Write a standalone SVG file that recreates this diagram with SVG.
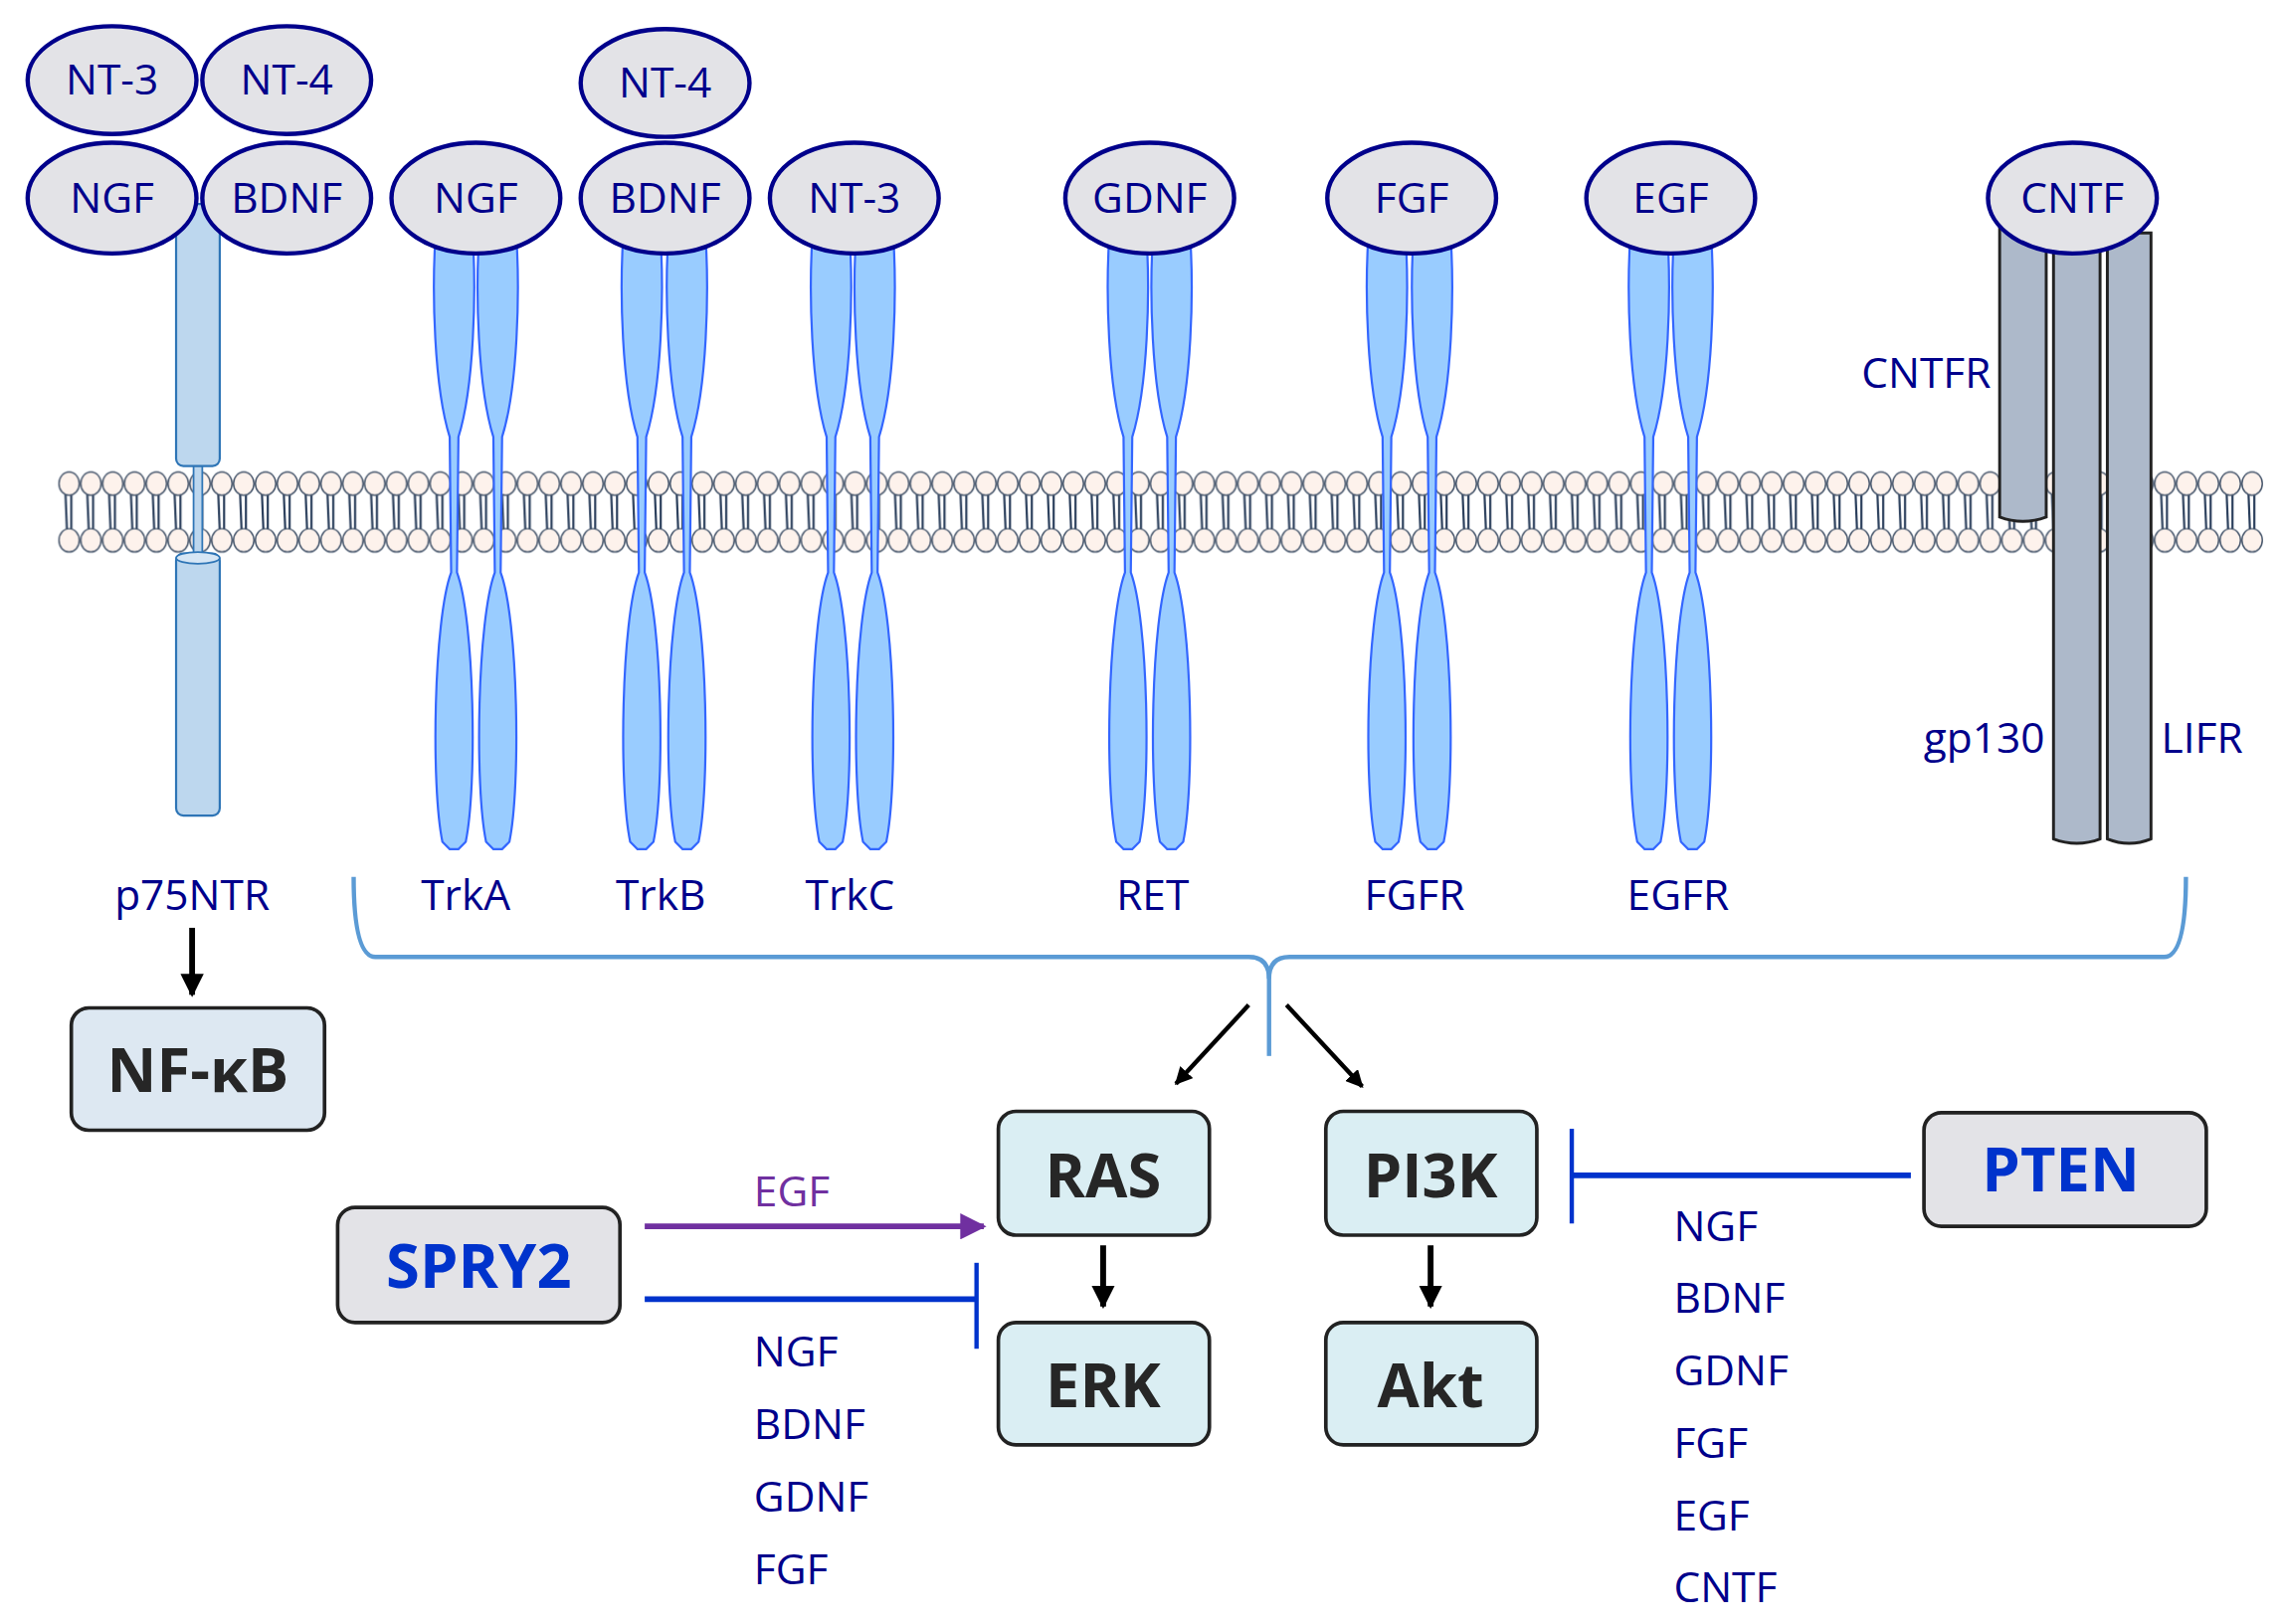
<svg xmlns="http://www.w3.org/2000/svg" width="2294" height="1633" viewBox="0 0 2294 1633">
<style>
.lig ellipse{fill:#e3e3e7;stroke:#00008b;stroke-width:3}
.lt{font-family:"Open Sans","Liberation Sans",sans-serif;font-size:29px;fill:#00008b;text-anchor:middle}
.lab{font-family:"Open Sans","Liberation Sans",sans-serif;font-size:29px;fill:#00008b}
.trk{fill:#99ccff;stroke:#3366ff;stroke-width:1.5}
.gp{fill:#adb9ca;stroke:#222;stroke-width:2}
.bx{fill:#daeef3;stroke:#222;stroke-width:2.5}
.bt{font-family:"Open Sans","Liberation Sans",sans-serif;font-size:42px;font-weight:bold;fill:#262626;text-anchor:middle}
.bb{font-family:"Open Sans","Liberation Sans",sans-serif;font-size:42px;font-weight:bold;fill:#0033cc;text-anchor:middle}
</style>
<defs>
<pattern id="mem" x="40" y="322" width="15" height="60" patternUnits="userSpaceOnUse">
<line x1="5" y1="17" x2="6" y2="42" stroke="#2b3f5c" stroke-width="1.5"/>
<line x1="9" y1="17" x2="9" y2="42" stroke="#2b3f5c" stroke-width="1.5"/>
<ellipse cx="7.5" cy="10" rx="7" ry="8" fill="#fdf2ec" stroke="#44546a" stroke-width="1"/>
<ellipse cx="7.5" cy="49" rx="7" ry="8" fill="#fdf2ec" stroke="#44546a" stroke-width="1"/>
</pattern>
<marker id="ah" viewBox="0 0 10 10" refX="9" refY="5" markerWidth="4" markerHeight="4" orient="auto"><path d="M0,0 L10,5 L0,10 z" fill="#000"/></marker>
<marker id="ahp" viewBox="0 0 10 10" refX="9" refY="5" markerWidth="4.5" markerHeight="4.5" orient="auto"><path d="M0,0 L10,5 L0,10 z" fill="#7030a0"/></marker>
<path id="lobe" d="M-3,300 C-14,265 -15,200 -13,166 L13,166 C15,200 14,265 3,300 L2,393 C14,425 16,540 8,578 L3,583 L-3,583 L-8,578 C-16,540 -14,425 -2,393 Z"/>
</defs>
<g transform="scale(1.463,1.4646)">
<g id="membrane"><rect x="40" y="322" width="1515" height="60" fill="url(#mem)"/></g>

<g id="p75NTR">
<rect x="133" y="310" width="6" height="80" fill="#bdd7ee" stroke="#2e75b6" stroke-width="1.2"/>
<rect x="121" y="140" width="30" height="180" rx="5" fill="#bdd7ee" stroke="#2e75b6" stroke-width="1.5"/>
<rect x="121" y="380" width="30" height="180" rx="5" fill="#bdd7ee" stroke="#2e75b6" stroke-width="1.5"/>
<ellipse cx="136" cy="383" rx="15" ry="4" fill="#d6e6f5" stroke="#2e75b6" stroke-width="1.2"/>
<text class="lt" x="132" y="625">p75NTR</text>
</g>
<g id="TrkA"><use href="#lobe" class="trk" x="312"/><use href="#lobe" class="trk" x="342"/><text class="lt" x="320" y="625">TrkA</text></g>
<g id="TrkB"><use href="#lobe" class="trk" x="441"/><use href="#lobe" class="trk" x="472"/><text class="lt" x="454" y="625">TrkB</text></g>
<g id="TrkC"><use href="#lobe" class="trk" x="571"/><use href="#lobe" class="trk" x="601"/><text class="lt" x="584" y="625">TrkC</text></g>
<g id="RET"><use href="#lobe" class="trk" x="775"/><use href="#lobe" class="trk" x="805"/><text class="lt" x="792" y="625">RET</text></g>
<g id="FGFR"><use href="#lobe" class="trk" x="953"/><use href="#lobe" class="trk" x="984"/><text class="lt" x="972" y="625">FGFR</text></g>
<g id="EGFR"><use href="#lobe" class="trk" x="1133"/><use href="#lobe" class="trk" x="1163"/><text class="lt" x="1153" y="625">EGFR</text></g>

<g id="CNTF-receptors">
<path class="gp" d="M1374,150 H1406 V355 Q1390,361 1374,355 Z"/>
<path class="gp" d="M1411,165 H1443 V576 Q1427,582 1411,576 Z"/>
<path class="gp" d="M1448,160 H1478 V576 Q1463,582 1448,576 Z"/>
<text class="lab" x="1368" y="266" text-anchor="end">CNTFR</text>
<text class="lab" x="1405" y="517" text-anchor="end">gp130</text>
<text class="lab" x="1485" y="517">LIFR</text>
</g>

<g id="ligands" class="lig">
<g id="NT3a"><ellipse cx="77" cy="55" rx="58" ry="37"/><text class="lt" x="77" y="65">NT-3</text></g>
<g id="NT4a"><ellipse cx="197" cy="55" rx="58" ry="37"/><text class="lt" x="197" y="65">NT-4</text></g>
<g id="NT4b"><ellipse cx="457" cy="57" rx="58" ry="37"/><text class="lt" x="457" y="67">NT-4</text></g>
<g id="NGFa"><ellipse cx="77" cy="136" rx="58" ry="38"/><text class="lt" x="77" y="146">NGF</text></g>
<g id="BDNFa"><ellipse cx="197" cy="136" rx="58" ry="38"/><text class="lt" x="197" y="146">BDNF</text></g>
<g id="NGFb"><ellipse cx="327" cy="136" rx="58" ry="38"/><text class="lt" x="327" y="146">NGF</text></g>
<g id="BDNFb"><ellipse cx="457" cy="136" rx="58" ry="38"/><text class="lt" x="457" y="146">BDNF</text></g>
<g id="NT3b"><ellipse cx="587" cy="136" rx="58" ry="38"/><text class="lt" x="587" y="146">NT-3</text></g>
<g id="GDNF"><ellipse cx="790" cy="136" rx="58" ry="38"/><text class="lt" x="790" y="146">GDNF</text></g>
<g id="FGF"><ellipse cx="970" cy="136" rx="58" ry="38"/><text class="lt" x="970" y="146">FGF</text></g>
<g id="EGF"><ellipse cx="1148" cy="136" rx="58" ry="38"/><text class="lt" x="1148" y="146">EGF</text></g>
<g id="CNTF"><ellipse cx="1424" cy="136" rx="58" ry="38"/><text class="lt" x="1424" y="146">CNTF</text></g>
</g>

<g id="NFkB"><rect x="49" y="692" width="174" height="84" rx="12" fill="#dde8f2" stroke="#222" stroke-width="2.5"/><text class="bt" x="136" y="750">NF-κB</text></g>
<g id="RAS"><rect class="bx" x="686" y="763" width="145" height="85" rx="12"/><text class="bt" x="758" y="822">RAS</text></g>
<g id="PI3K"><rect class="bx" x="911" y="763" width="145" height="85" rx="12"/><text class="bt" x="983" y="822">PI3K</text></g>
<g id="ERK"><rect class="bx" x="686" y="908" width="145" height="84" rx="12"/><text class="bt" x="758" y="966">ERK</text></g>
<g id="Akt"><rect class="bx" x="911" y="908" width="145" height="84" rx="12"/><text class="bt" x="983" y="966">Akt</text></g>
<g id="SPRY2"><rect x="232" y="829" width="194" height="79" rx="12" fill="#e3e3e7" stroke="#222" stroke-width="2.5"/><text class="bb" x="329" y="884">SPRY2</text></g>
<g id="PTEN"><rect x="1322" y="764" width="194" height="78" rx="12" fill="#e3e3e7" stroke="#222" stroke-width="2.5"/><text class="bb" x="1416" y="818">PTEN</text></g>

<g id="connectors" fill="none">
<path d="M243,602 Q243,657 258,657 H858 Q872,657 872,672 Q872,657 886,657 H1487 Q1502,657 1502,602" stroke="#5b9bd5" stroke-width="3"/>
<line x1="872" y1="668" x2="872" y2="725" stroke="#5b9bd5" stroke-width="3"/>
<line x1="858" y1="690" x2="808" y2="744" stroke="#000" stroke-width="3" marker-end="url(#ah)"/>
<line x1="884" y1="690" x2="936" y2="746" stroke="#000" stroke-width="3" marker-end="url(#ah)"/>
<line x1="132" y1="637" x2="132" y2="683" stroke="#000" stroke-width="4" marker-end="url(#ah)"/>
<line x1="758" y1="855" x2="758" y2="897" stroke="#000" stroke-width="4" marker-end="url(#ah)"/>
<line x1="983" y1="855" x2="983" y2="897" stroke="#000" stroke-width="4" marker-end="url(#ah)"/>
<line x1="443" y1="842" x2="676" y2="842" stroke="#7030a0" stroke-width="4" marker-end="url(#ahp)"/>
<line x1="443" y1="892" x2="671" y2="892" stroke="#0033cc" stroke-width="4"/>
<line x1="671" y1="867" x2="671" y2="926" stroke="#0033cc" stroke-width="3"/>
<line x1="1313" y1="807" x2="1080" y2="807" stroke="#0033cc" stroke-width="4"/>
<line x1="1080" y1="775" x2="1080" y2="840" stroke="#0033cc" stroke-width="3"/>
</g>

<g id="labels">
<text class="lab" x="518" y="828" fill="#7030a0" style="fill:#7030a0">EGF</text>
<text class="lab" x="518" y="938">NGF</text>
<text class="lab" x="518" y="988">BDNF</text>
<text class="lab" x="518" y="1038">GDNF</text>
<text class="lab" x="518" y="1088">FGF</text>
<text class="lab" x="1150" y="852">NGF</text>
<text class="lab" x="1150" y="901">BDNF</text>
<text class="lab" x="1150" y="951">GDNF</text>
<text class="lab" x="1150" y="1001">FGF</text>
<text class="lab" x="1150" y="1051">EGF</text>
<text class="lab" x="1150" y="1100">CNTF</text>
</g>
</g>
</svg>
